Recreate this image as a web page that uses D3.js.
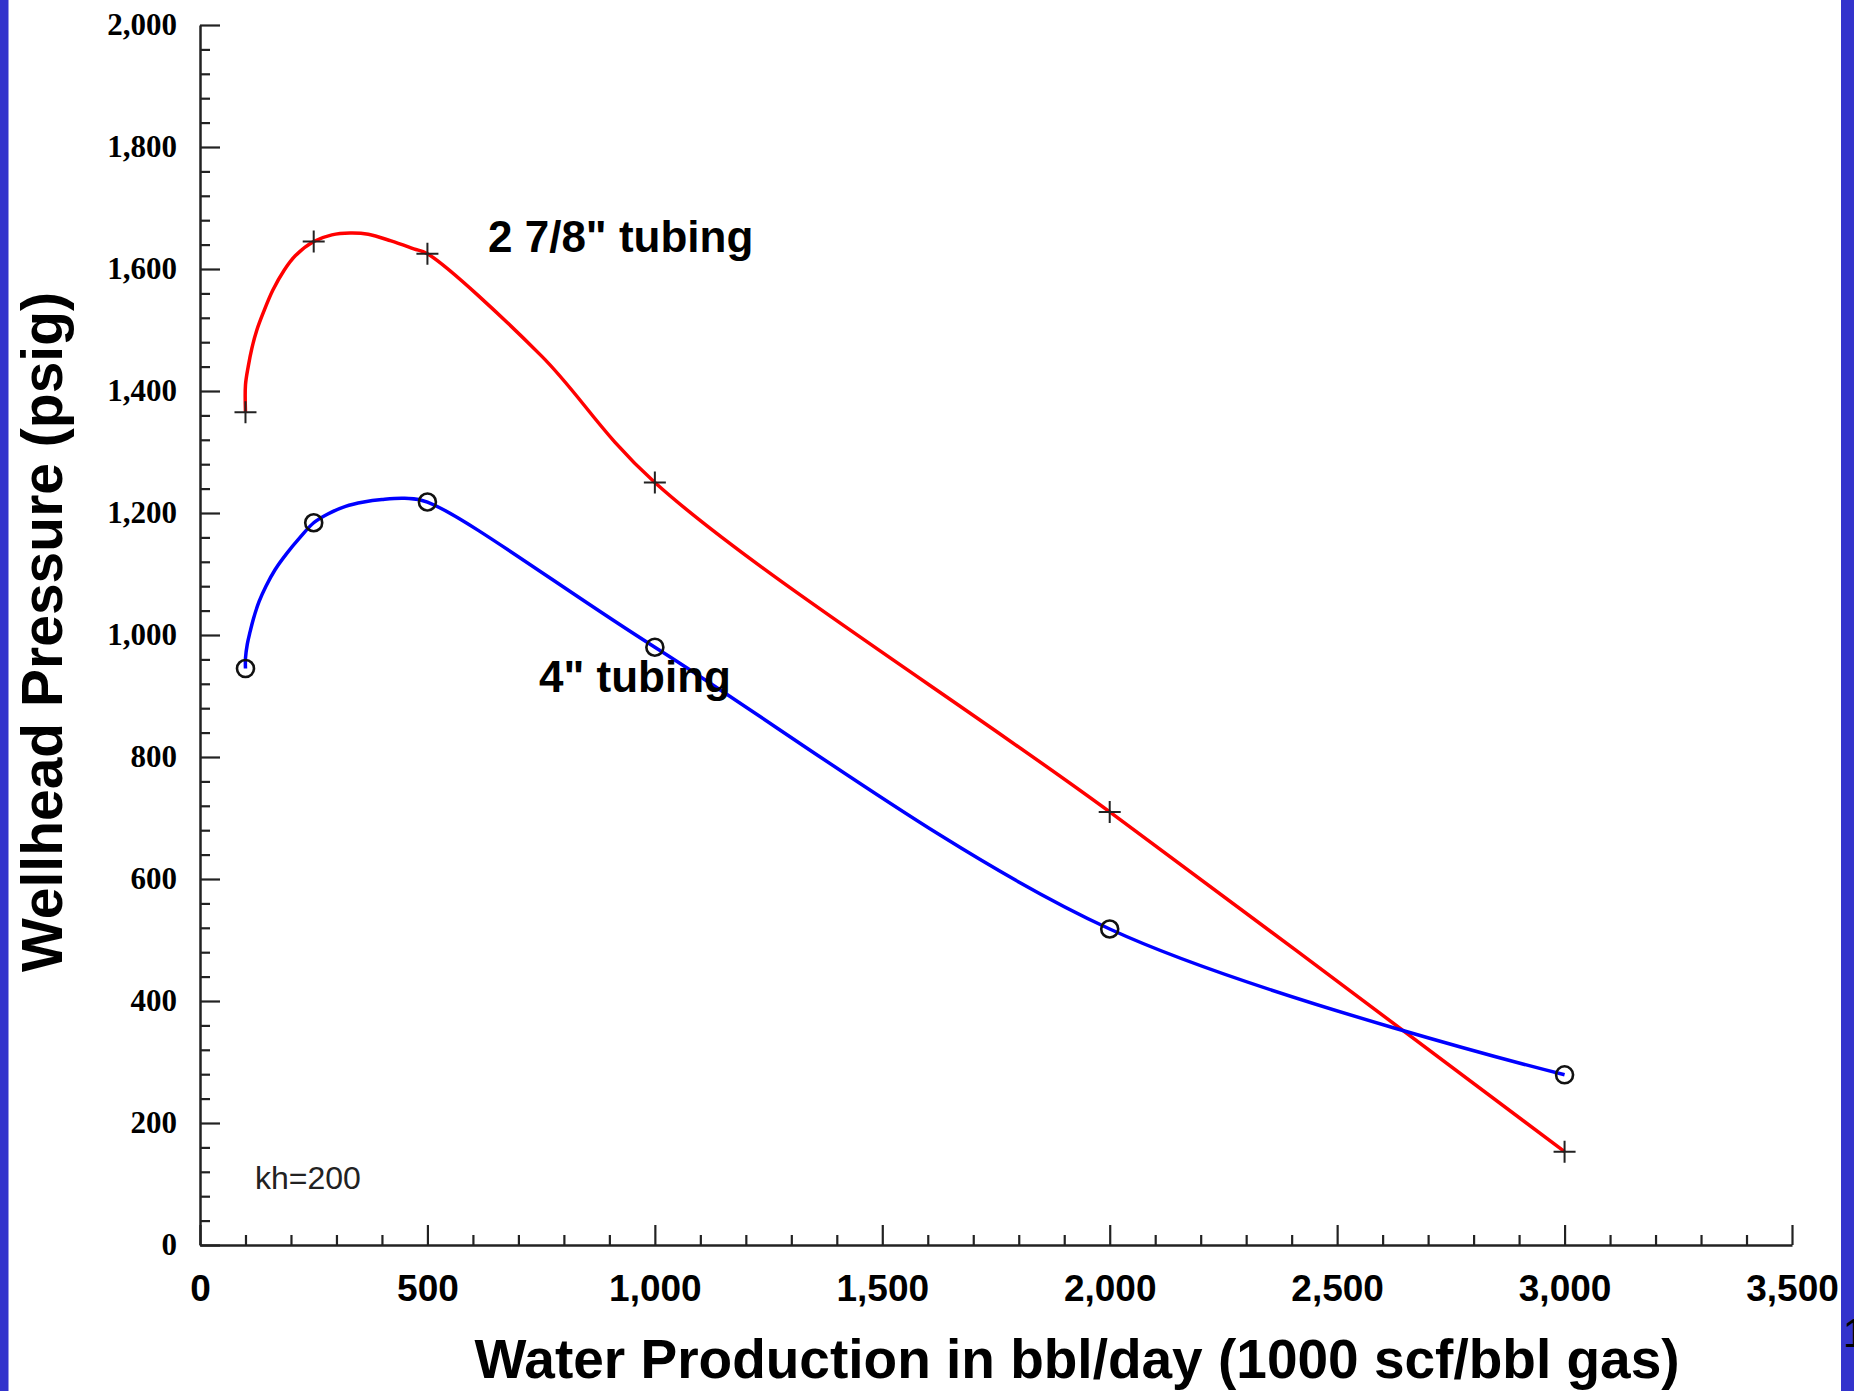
<!DOCTYPE html>
<html>
<head>
<meta charset="utf-8">
<script src="https://cdn.jsdelivr.net/npm/d3@7"></script>
<style>
  html, body { margin: 0; padding: 0; background: #ffffff; }
  svg { display: block; }
</style>
</head>
<body>
<script>
// ---- data ----
const waterRates = [100, 250, 500, 1000, 2000, 3000];          // bbl/day
const pressure278 = [1365, 1645, 1625, 1250, 710, 153];        // 2 7/8" tubing, psig
const pressure4 = [945, 1184, 1218, 980, 518, 279];            // 4" tubing, psig

// traced points of the drawn smooth curves
const curve278X = [100, 100, 106, 114, 125, 140, 160, 185, 210, 250, 290, 330, 370, 420, 470, 500, 750, 1000, 2000, 3000];
const curve278Y = [1365, 1410, 1440, 1470, 1500, 1530, 1565, 1598, 1622, 1645, 1656, 1659, 1657, 1646, 1633, 1625, 1458, 1250, 710, 153];
const curve4X = [100, 100, 104, 110, 118, 130, 145, 165, 190, 220, 250, 280, 320, 360, 400, 450, 500, 1000, 2000, 3000];
const curve4Y = [945, 962, 985, 1005, 1028, 1055, 1080, 1107, 1133, 1160, 1184, 1198, 1211, 1218, 1222, 1224, 1218, 980, 518, 279];

const xTicks = [0, 500, 1000, 1500, 2000, 2500, 3000, 3500];
const yTicks = [0, 200, 400, 600, 800, 1000, 1200, 1400, 1600, 1800, 2000];
const xMinorStep = 100;
const yMinorStep = 40;

const xTitle = "Water Production in bbl/day (1000 scf/bbl gas)";
const yTitle = "Wellhead Pressure (psig)";
const label278 = "2 7/8\" tubing";
const label4 = "4\" tubing";
const noteText = "kh=200";

// ---- drawing ----
const W = 1854, H = 1391;
const svg = d3.select("body").append("svg").attr("width", W).attr("height", H);
svg.append("rect").attr("width", W).attr("height", H).attr("fill", "#ffffff");

// slide side bars
svg.append("rect").attr("x", 0).attr("y", 0).attr("width", 8.5).attr("height", H).attr("fill", "#3333cc");
svg.append("rect").attr("x", 1841).attr("y", 0).attr("width", W - 1841).attr("height", H).attr("fill", "#3333cc");
svg.append("text").attr("x", 1843).attr("y", 1347).attr("font-family", "Liberation Sans, Arial, sans-serif")
  .attr("font-size", 40).attr("fill", "#000").text("1");

const x = d3.scaleLinear().domain([0, 3500]).range([200, 1792]);
const y = d3.scaleLinear().domain([0, 2000]).range([1245, 25]);

const axisColor = "#222";

// minor ticks
const xMinor = d3.range(0, 3501, xMinorStep).filter(v => v % 500 !== 0);
const yMinor = d3.range(0, 2001, yMinorStep).filter(v => v % 200 !== 0);

const gxMinor = svg.append("g").attr("transform", `translate(0,${y(0)})`)
  .call(d3.axisBottom(x).tickValues(xMinor).tickSize(-10).tickSizeOuter(0).tickFormat(() => ""));
gxMinor.select(".domain").remove();
const gyMinor = svg.append("g").attr("transform", `translate(${x(0)},0)`)
  .call(d3.axisLeft(y).tickValues(yMinor).tickSize(-10).tickSizeOuter(0).tickFormat(() => ""));
gyMinor.select(".domain").remove();

// major axes
const gx = svg.append("g").attr("transform", `translate(0,${y(0)})`)
  .call(d3.axisBottom(x).tickValues(xTicks).tickSize(-20).tickSizeOuter(0).tickFormat(d3.format(",")));
gx.selectAll("text").attr("dy", null).attr("y", 56)
  .attr("font-family", "Liberation Sans, Arial, sans-serif").attr("font-weight", "bold")
  .attr("font-size", 37).attr("fill", "#000");

const gy = svg.append("g").attr("transform", `translate(${x(0)},0)`)
  .call(d3.axisLeft(y).tickValues(yTicks).tickSize(-20).tickSizeOuter(0).tickPadding(23).tickFormat(d3.format(",")));
gy.selectAll("text")
  .attr("font-family", "Liberation Serif, Times New Roman, serif").attr("font-weight", "bold")
  .attr("font-size", 31).attr("fill", "#000");

[gx, gy, gxMinor, gyMinor].forEach(g => {
  g.selectAll("line").attr("stroke", axisColor).attr("stroke-width", 2.2);
  g.selectAll(".domain").attr("stroke", axisColor).attr("stroke-width", 2.5);
});

// curves
const line = d3.line().x(d => x(d[0])).y(d => y(d[1])).curve(d3.curveCatmullRom.alpha(0.5));
const pts278 = curve278X.map((v, i) => [v, curve278Y[i]]);
const pts4 = curve4X.map((v, i) => [v, curve4Y[i]]);

svg.append("path").attr("d", line(pts278)).attr("fill", "none").attr("stroke", "#ff0000").attr("stroke-width", 3.5);
svg.append("path").attr("d", line(pts4)).attr("fill", "none").attr("stroke", "#0000ff").attr("stroke-width", 3.5);

// markers
svg.append("g").selectAll("path").data(waterRates.map((v, i) => [v, pressure278[i]])).join("path")
  .attr("transform", d => `translate(${x(d[0])},${y(d[1])})`)
  .attr("d", "M-11,0H11M0,-11V11").attr("stroke", "#222").attr("stroke-width", 2).attr("fill", "none");
svg.append("g").selectAll("circle").data(waterRates.map((v, i) => [v, pressure4[i]])).join("circle")
  .attr("cx", d => x(d[0])).attr("cy", d => y(d[1])).attr("r", 8.5)
  .attr("stroke", "#111").attr("stroke-width", 2.6).attr("fill", "none");

// annotations
svg.append("text").attr("x", 488).attr("y", 252)
  .attr("font-family", "Liberation Sans, Arial, sans-serif").attr("font-weight", "bold")
  .attr("font-size", 44).attr("fill", "#000").text(label278);
svg.append("text").attr("x", 539).attr("y", 692)
  .attr("font-family", "Liberation Sans, Arial, sans-serif").attr("font-weight", "bold")
  .attr("font-size", 44).attr("fill", "#000").text(label4);
svg.append("text").attr("x", 255).attr("y", 1189)
  .attr("font-family", "Liberation Sans, Arial, sans-serif")
  .attr("font-size", 32).attr("fill", "#222").text(noteText);

// axis titles
svg.append("text").attr("x", 1077).attr("y", 1378).attr("text-anchor", "middle")
  .attr("font-family", "Liberation Sans, Arial, sans-serif").attr("font-weight", "bold")
  .attr("font-size", 55).attr("fill", "#000").text(xTitle);
svg.append("text").attr("transform", "translate(62,632) rotate(-90)").attr("text-anchor", "middle")
  .attr("font-family", "Liberation Sans, Arial, sans-serif").attr("font-weight", "bold")
  .attr("font-size", 57).attr("fill", "#000").text(yTitle);
</script>
</body>
</html>
